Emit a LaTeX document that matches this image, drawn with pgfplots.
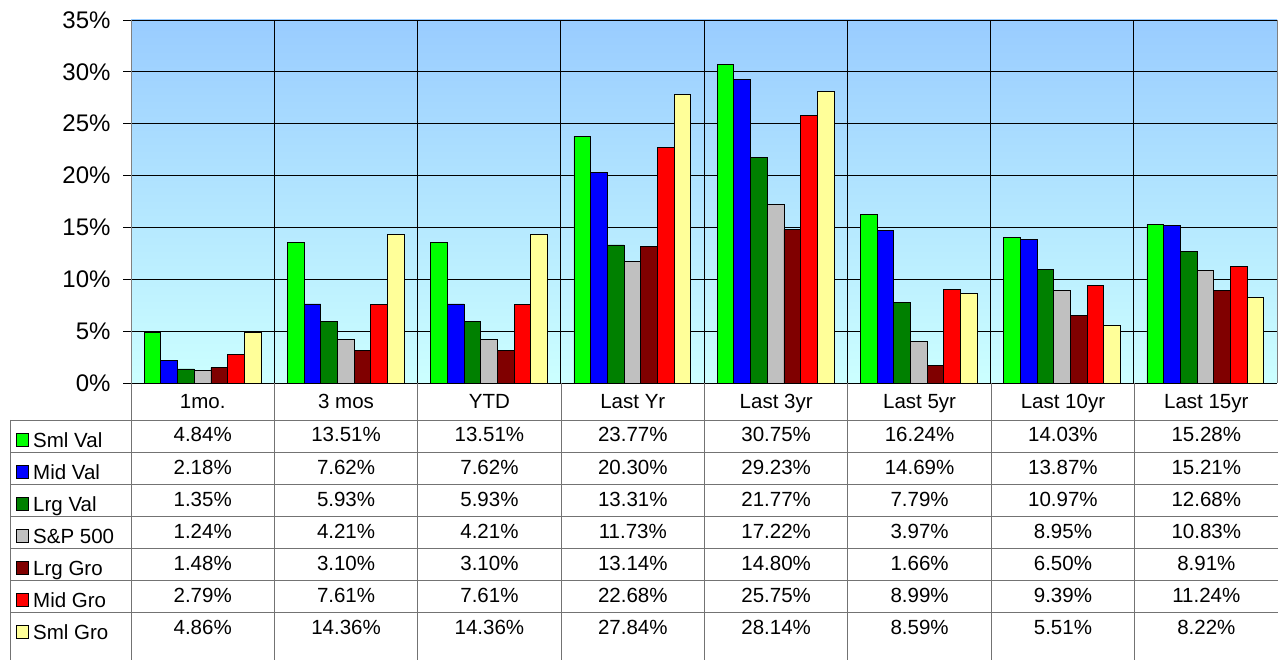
\documentclass[border=0pt]{standalone}
\usepackage{fontspec}
\setmainfont{Liberation Sans}
\usepackage{pgfplots}
\usepackage{pgfplotstable}
\pgfplotsset{compat=1.18}
\definecolor{csv}{HTML}{00FF00}
\definecolor{cmv}{HTML}{0000FF}
\definecolor{clv}{HTML}{008000}
\definecolor{csp}{HTML}{C0C0C0}
\definecolor{clg}{HTML}{800000}
\definecolor{cmg}{HTML}{FF0000}
\definecolor{csg}{HTML}{FFFF99}
\definecolor{bgtop}{HTML}{99CCFF}
\definecolor{bgbot}{HTML}{CCFFFF}
\newcommand\tabfont{\fontsize{20.5}{22}\selectfont}
\pgfplotstableread{
cat sv mv lv sp lg mg sg
0 4.84 2.18 1.35 1.24 1.48 2.79 4.86
1 13.51 7.62 5.93 4.21 3.10 7.61 14.36
2 13.51 7.62 5.93 4.21 3.10 7.61 14.36
3 23.77 20.30 13.31 11.73 13.14 22.68 27.84
4 30.75 29.23 21.77 17.22 14.80 25.75 28.14
5 16.24 14.69 7.79 3.97 1.66 8.99 8.59
6 14.03 13.87 10.97 8.95 6.50 9.39 5.51
7 15.28 15.21 12.68 10.83 8.91 11.24 8.22
}\data
\begin{document}
\begin{tikzpicture}[x=1pt,y=1pt]
\path[use as bounding box] (0,0) rectangle (1278,-660);
\begin{axis}[
  at={(131pt,-383pt)}, anchor=south west,
  scale only axis, width=1146pt, height=363pt,
  xmin=-0.5, xmax=7.5, ymin=0, ymax=35,
  ybar=0pt, bar width=0.1165,
  axis background/.style={top color=bgtop, bottom color=bgbot},
  xtick={0.5,1.5,...,6.5}, xticklabels={},
  x tick style={draw=none},
  xmajorgrids, ymajorgrids,
  grid style={black, line width=0.9pt},
  ytick={0,5,...,35},
  yticklabels={0\%,5\%,10\%,15\%,20\%,25\%,30\%,35\%},
  yticklabel style={font=\fontsize{24}{24}\selectfont, xshift=-9pt},
  ytick pos=left, tick align=outside, major tick length=8pt,
  y tick style={black, line width=0.9pt},
  separate axis lines,
  x axis line style={black, line width=0.9pt},
  y axis line style={black!50, line width=0.9pt},
  every axis plot/.append style={draw=black, line width=0.9pt},
]
\addplot[fill=csv] table[x=cat,y=sv]{\data};
\addplot[fill=cmv] table[x=cat,y=mv]{\data};
\addplot[fill=clv] table[x=cat,y=lv]{\data};
\addplot[fill=csp] table[x=cat,y=sp]{\data};
\addplot[fill=clg] table[x=cat,y=lg]{\data};
\addplot[fill=cmg] table[x=cat,y=mg]{\data};
\addplot[fill=csg] table[x=cat,y=sg]{\data};
\end{axis}
% data table lines
\begin{scope}[draw=black!55, line width=0.9pt]
\foreach \k in {0,...,8} {
  \draw ({131+143.375*\k},-383) -- ({131+143.375*\k},-660);
}
\draw (10,-420) -- (10,-660);
\foreach \j in {0,...,6} {
  \draw (10,{-420-32*\j}) -- (1278,{-420-32*\j});
}
\end{scope}
% header
\foreach \lab [count=\k from 0] in {1mo.,3 mos,YTD,Last Yr,Last 3yr,Last 5yr,Last 10yr,Last 15yr} {
  \node[anchor=base, font=\tabfont, inner sep=0pt] at ({131+143.375*(\k+0.5)},-409) {\lab};
}
% values
\foreach \col [count=\j from 0] in {sv,mv,lv,sp,lg,mg,sg} {
  \foreach \r in {0,...,7} {
    \pgfplotstablegetelem{\r}{\col}\of\data
    \node[anchor=base, font=\tabfont, inner sep=0pt] at ({131+143.375*(\r+0.5)},{-442-32*\j}) {\pgfplotsretval\%};
  }
}
% legend keys
\foreach \col/\lab [count=\j from 0] in {sv/Sml Val,mv/Mid Val,lv/Lrg Val,sp/S\&P 500,lg/Lrg Gro,mg/Mid Gro,sg/Sml Gro} {
  \draw[fill=c\col, line width=0.9pt] (16,{-433-32*\j}) rectangle (28,{-446-32*\j});
  \node[anchor=base west, font=\tabfont, inner sep=0pt] at (33,{-447-32*\j}) {\lab};
}
\end{tikzpicture}
\end{document}
